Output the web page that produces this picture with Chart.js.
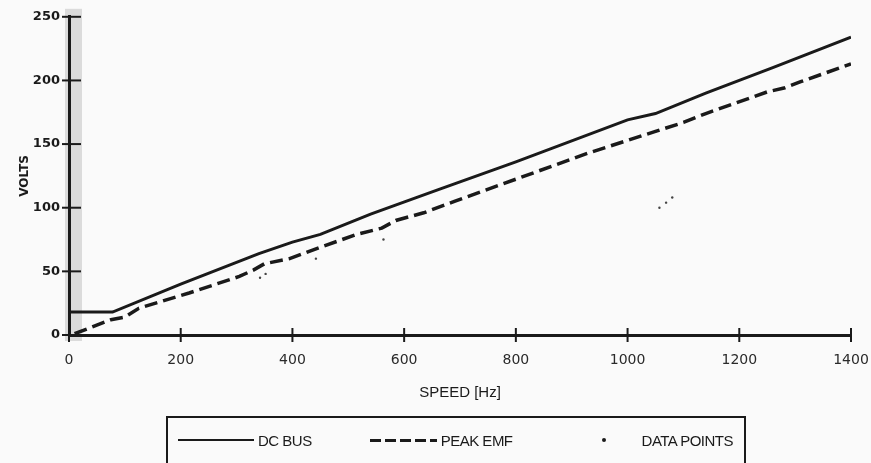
<!DOCTYPE html>
<html>
<head>
<meta charset="utf-8">
<script src="https://cdn.jsdelivr.net/npm/chart.js@4.4.1/dist/chart.umd.min.js"></script>
<style>
  html, body { margin: 0; padding: 0; background: #fafafa; overflow: hidden; }
  #wrap { position: relative; width: 871px; height: 463px; overflow: hidden; }
  #chart { display: block; }
  #legend {
    position: absolute; left: 166px; top: 416px; width: 580px; height: 70px;
    box-sizing: border-box; border: 2px solid #1a1a1a; padding: 13px 0 0 10px;
    display: flex; align-items: flex-start; white-space: nowrap;
    font-family: "Liberation Sans", Arial, sans-serif; font-size: 15px;
    letter-spacing: -0.5px; color: #1a1a1a;
  }
  #legend .item { display: flex; align-items: center; flex: none; height: 18px; margin-right: 58px; }
  #legend .mark { position: relative; flex: none; height: 18px; margin-right: 4px; }
  #legend .solid { position: absolute; left: 0; right: 0; top: 8px; height: 2px; background: #1a1a1a; }
  #legend .dash { position: absolute; left: 0; right: 0; top: 8px; height: 3px;
    background: repeating-linear-gradient(to right, #1a1a1a 0 11px, transparent 11px 15px); }
  #legend .dot { position: absolute; left: 50%; top: 7px; width: 4px; height: 4px; margin-left: -2px;
    border-radius: 50%; background: #1a1a1a; }
</style>
</head>
<body>
<div id="wrap">
  <canvas id="chart" width="871" height="463"></canvas>
  <div id="legend"></div>
</div>
<script>
// values
const dcBusSpeed = [0, 78, 200, 340, 400, 450, 540, 660, 800, 1000, 1050, 1140, 1260, 1400];
const dcBusVolts = [18, 18, 40, 64, 73, 79, 95, 114, 136, 169, 174, 190, 210, 234];

const emfSpeed = [10, 75, 100, 125, 215, 305, 330, 350, 395, 450, 515, 560, 585, 635, 690, 810, 930, 1050, 1100, 1140, 1250, 1280, 1310, 1400];
const emfVolts = [1, 12, 14, 21, 33, 46, 51, 56, 60, 69, 79, 84, 90, 96, 105, 124, 143, 160, 167, 174, 191, 194, 199, 213];

const pointSpeed = [342, 352, 442, 563, 1057, 1069, 1080];
const pointVolts = [45, 48, 60, 75, 100, 104, 108];

const xTicks = [0, 200, 400, 600, 800, 1000, 1200, 1400];
const yTicks = [0, 50, 100, 150, 200, 250];

const toXY = (xs, ys) => xs.map((x, i) => ({ x: x, y: ys[i] }));

const ink = '#1a1a1a';

// grey smudge along the y axis + ticks that cross the axes
const scanPlugin = {
  id: 'scan',
  beforeDraw(chart) {
    const { ctx, chartArea } = chart;
    ctx.save();
    ctx.fillStyle = 'rgba(150,150,150,0.3)';
    ctx.fillRect(chartArea.left - 4, chartArea.top - 8, 17, chartArea.bottom - chartArea.top + 14);
    ctx.restore();
  },
  afterDraw(chart) {
    const { ctx, chartArea } = chart;
    const xs = chart.scales.x, ys = chart.scales.y;
    ctx.save();
    ctx.strokeStyle = ink;
    ctx.lineWidth = 2;
    yTicks.forEach(v => {
      const py = ys.getPixelForValue(v);
      ctx.beginPath();
      ctx.moveTo(chartArea.left - 7, py);
      ctx.lineTo(chartArea.left + 12, py);
      ctx.stroke();
    });
    xTicks.forEach(v => {
      const px = xs.getPixelForValue(v);
      ctx.beginPath();
      ctx.moveTo(px, chartArea.bottom - 7);
      ctx.lineTo(px, chartArea.bottom + 7);
      ctx.stroke();
    });
    ctx.restore();
  }
};

const chart = new Chart(document.getElementById('chart'), {
  type: 'line',
  data: {
    datasets: [
      {
        label: 'DC BUS',
        data: toXY(dcBusSpeed, dcBusVolts),
        borderColor: ink,
        borderWidth: 3,
        pointRadius: 0,
        tension: 0
      },
      {
        label: 'PEAK EMF',
        data: toXY(emfSpeed, emfVolts),
        borderColor: ink,
        borderWidth: 3.5,
        borderDash: [13, 6],
        pointRadius: 0,
        tension: 0
      },
      {
        label: 'DATA POINTS',
        data: toXY(pointSpeed, pointVolts),
        showLine: false,
        pointRadius: 1.2,
        pointBackgroundColor: '#444',
        pointBorderWidth: 0
      }
    ]
  },
  options: {
    responsive: false,
    animation: false,
    devicePixelRatio: 1,
    layout: { padding: { top: 15, right: 20, left: 0, bottom: 0 } },
    plugins: { legend: { display: false }, tooltip: { enabled: false } },
    scales: {
      x: {
        type: 'linear',
        min: 0,
        max: 1400,
        afterFit: s => { s.height = 128; s.paddingLeft = 0; s.paddingRight = 0; },
        afterBuildTicks: s => { s.ticks = xTicks.map(v => ({ value: v })); },
        grid: { display: false, drawTicks: false },
        border: { display: true, color: ink, width: 3 },
        ticks: {
          padding: 17,
          color: '#2a2a2a',
          maxRotation: 0,
          callback: v => String(v),
          font: { family: '"DejaVu Sans", sans-serif', size: 14 }
        },
        title: {
          display: true,
          text: 'SPEED [Hz]',
          color: ink,
          padding: { top: 0, bottom: 61 },
          font: { family: '"Liberation Sans", Arial, sans-serif', size: 15 }
        }
      },
      y: {
        min: 0,
        max: 250,
        afterFit: s => { s.width = 69; },
        afterBuildTicks: s => { s.ticks = yTicks.map(v => ({ value: v })); },
        grid: { display: false, drawTicks: false },
        border: { display: true, color: ink, width: 3 },
        ticks: {
          padding: 9,
          color: ink,
          callback: v => String(v),
          font: { family: '"DejaVu Sans", sans-serif', size: 13, weight: 'bold' }
        },
        title: {
          display: true,
          text: 'VOLTS',
          color: ink,
          padding: { top: 18, bottom: 0 },
          font: { family: '"DejaVu Sans", sans-serif', size: 12, weight: 'bold' }
        }
      }
    }
  },
  plugins: [scanPlugin]
});

// boxed legend under the plot, built from the datasets
const legendEl = document.getElementById('legend');
const markWidths = [76, 67, 67];
chart.data.datasets.forEach((ds, i) => {
  const item = document.createElement('div');
  item.className = 'item';
  const mark = document.createElement('span');
  mark.className = 'mark';
  mark.style.width = markWidths[i] + 'px';
  const stroke = document.createElement('span');
  if (ds.showLine === false) stroke.className = 'dot';
  else if (ds.borderDash && ds.borderDash.length) stroke.className = 'dash';
  else stroke.className = 'solid';
  mark.appendChild(stroke);
  const text = document.createElement('span');
  text.textContent = ds.label;
  item.appendChild(mark);
  item.appendChild(text);
  legendEl.appendChild(item);
});
</script>
</body>
</html>
